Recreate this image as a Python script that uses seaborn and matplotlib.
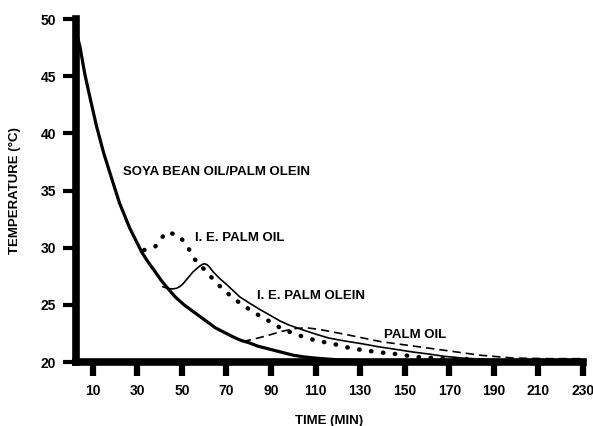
import pandas as pd
import numpy as np
import matplotlib
matplotlib.use('Agg')
import matplotlib.pyplot as plt
import seaborn as sns

sns.set_style('ticks')
plt.rcParams['font.family'] = ['Liberation Sans', 'DejaVu Sans']
plt.rcParams['font.weight'] = 'bold'

# soya bean oil / palm olein (thick solid)
soya_time = [2.4, 4.2, 6.4, 9, 11.7, 15, 18.4, 22, 26.5, 32, 35, 38, 40.5, 43, 47, 51, 54.5, 58, 61.5,
             65, 69, 73, 76.5, 80, 84, 88, 94, 100, 105, 110, 115, 120, 135, 150, 170]
soya_temp = [49, 47.6, 45.2, 42.9, 40.6, 38.2, 36.1, 33.9, 31.75, 29.6, 28.7, 27.9, 27.2, 26.6, 25.7, 25,
             24.5, 24, 23.5, 23, 22.6, 22.2, 21.9, 21.7, 21.4, 21.2, 20.9, 20.6, 20.45, 20.35, 20.27, 20.2, 20.1,
             20.05, 20]

# I. E. palm oil (dotted)
iepo_time = [33, 38, 40.5, 43.5, 49, 52.5, 55.7, 61, 65.6, 70.6, 76.4, 82.7, 89, 95, 101.6, 108, 115, 120, 126,
             133, 139, 146.5, 151.5, 158, 169, 180]
iepo_temp = [29.8, 30.1, 30.8, 31.4, 31.0, 30.1, 29.0, 27.9, 26.9, 26.0, 25.1, 24.3, 23.6, 22.9, 22.4, 22.0, 21.7,
             21.5, 21.2, 21.0, 20.85, 20.7, 20.55, 20.4, 20.3, 20.25]

# I. E. palm olein (thin solid)
iepol_time = [41.3, 43.5, 45.4, 47.5, 49, 50.5, 52, 53.5, 55, 56.5, 58, 59.2, 60, 61, 62, 63, 64, 67, 70, 73, 76,
              80, 85, 90, 94, 98, 103, 110, 116, 123, 131, 138, 146.5, 153, 161, 168, 176, 190]
iepol_temp = [26.6, 26.45, 26.4, 26.45, 26.6, 26.85, 27.2, 27.55, 27.9, 28.15, 28.4, 28.55, 28.6, 28.55, 28.4,
              28.15, 27.9, 27.3, 26.8, 26.25, 25.7, 25.2, 24.6, 24.05, 23.6, 23.25, 22.9, 22.45, 22.1, 21.85,
              21.6, 21.35, 21.1, 20.9, 20.7, 20.5, 20.35, 20.2]

# palm oil (dashed)
po_time = [77.3, 83, 88, 95, 101.6, 106, 112, 124, 139, 154, 169, 184, 199, 215, 230]
po_temp = [21.8, 22.05, 22.3, 22.7, 22.95, 23.0, 22.85, 22.4, 21.8, 21.4, 21.0, 20.6, 20.35, 20.3, 20.3]

x_ticks = [10, 30, 50, 70, 90, 110, 130, 150, 170, 190, 210, 230]
y_ticks = [20, 25, 30, 35, 40, 45, 50]

fig = plt.figure(figsize=(5.93, 4.26), dpi=100)
ax = fig.add_axes([0.128, 0.15, 0.855, 0.805])

sns.lineplot(x=soya_time, y=soya_temp, ax=ax, color='black', lw=2.3)
sns.lineplot(x=iepol_time, y=iepol_temp, ax=ax, color='black', lw=1.2)
sns.lineplot(x=po_time, y=po_temp, ax=ax, color='black', lw=1.2, linestyle=(0, (5, 3)))
l = sns.lineplot(x=iepo_time, y=iepo_temp, ax=ax, color='black', lw=3.2, linestyle=(0, (0.1, 2.6)))
l.lines[-1].set_dash_capstyle('round')

ax.set_xlim(2.4, 230)
ax.set_ylim(20, 50)
ax.set_xticks(x_ticks)
ax.set_yticks(y_ticks)
sns.despine(ax=ax)
for s in ['left', 'bottom']:
    ax.spines[s].set_linewidth(5.5)
    ax.spines[s].set_color('black')
    ax.spines[s].set_capstyle('projecting')
ax.tick_params(axis='x', length=10, width=4.5, labelsize=10, pad=6, color='black', labelcolor='black')
ax.tick_params(axis='y', length=9.5, width=3, labelsize=10, pad=5, color='black', labelcolor='black')
for t in ax.get_xticklabels() + ax.get_yticklabels():
    t.set_fontweight('bold')

ax.set_xlabel('TIME (MIN)', fontsize=9.5, fontweight='bold', labelpad=12, color='black')
ax.set_ylabel('TEMPERATURE (°C)', fontsize=9.5, fontweight='bold', labelpad=14, color='black')

kw = dict(fontsize=9.5, fontweight='bold', va='center', ha='left', color='black')
ax.text(23.4, 36.6, 'SOYA BEAN OIL/PALM OLEIN', **kw)
ax.text(55.7, 30.9, 'I. E. PALM OIL', **kw)
ax.text(83.6, 25.8, 'I. E. PALM OLEIN', **kw)
ax.text(140.7, 22.4, 'PALM OIL', **kw)

fig.savefig('out.png', dpi=100)
